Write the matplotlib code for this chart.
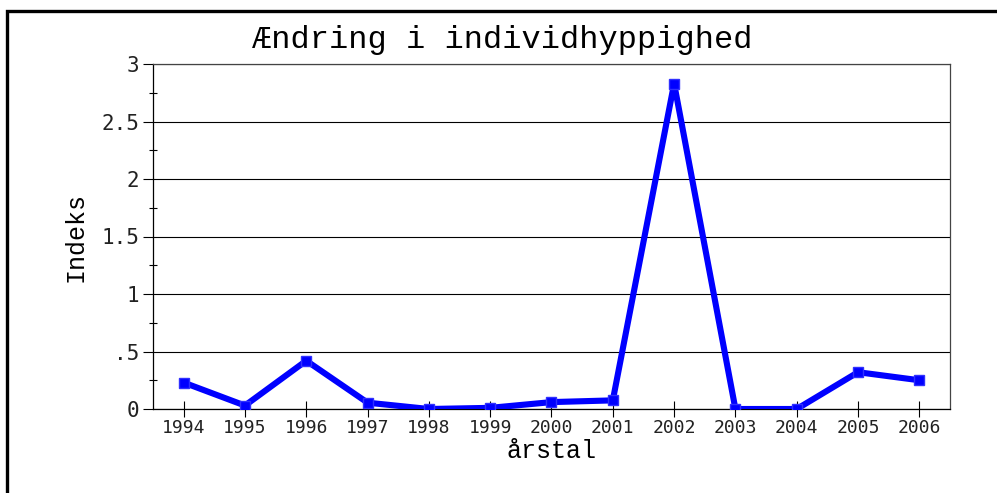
import matplotlib.pyplot as plt
from matplotlib.patches import Rectangle
from matplotlib.ticker import FixedLocator

# data
years = [1994, 1995, 1996, 1997, 1998, 1999, 2000, 2001, 2002, 2003, 2004, 2005, 2006]
indeks = [0.23, 0.03, 0.42, 0.055, 0.0, 0.01, 0.06, 0.075, 2.83, 0.0, 0.0, 0.32, 0.25]
y_ticks = [0, 0.5, 1, 1.5, 2, 2.5, 3]
y_tick_labels = ['0', '.5', '1', '1.5', '2', '2.5', '3']
y_minor = [0.25, 0.75, 1.25, 1.75, 2.25, 2.75]

W, H = 997, 493
fig = plt.figure(figsize=(W / 100, H / 100), dpi=100)
ax = fig.add_axes([153 / W, 1 - 409 / H, (950 - 153) / W, (409 - 64) / H])

# frame round the whole figure (cut off right and bottom in the reference)
fig.patches.append(Rectangle((7 / W, -1.0), 3.0, 2.0 - 11 / H,
                             transform=fig.transFigure, fill=False,
                             edgecolor='black', linewidth=2.4, clip_on=False))

ax.plot(years, indeks, color='#0000ff', linewidth=4.4, marker='s',
        markersize=7, markerfacecolor='#0000ff', markeredgecolor='#3030ff',
        solid_joinstyle='bevel', zorder=3)

ax.set_xlim(1993.5, 2006.5)
ax.set_ylim(0, 3)
ax.set_xticks(years)
ax.set_xticklabels([str(y) for y in years], family='DejaVu Sans Mono',
                   fontsize=13, color='#222222')
ax.set_yticks(y_ticks)
ax.set_yticklabels(y_tick_labels, family='DejaVu Sans Mono', fontsize=15,
                   color='#222222')
ax.yaxis.set_minor_locator(FixedLocator(y_minor))

ax.tick_params(axis='x', direction='inout', length=12, width=0.8, pad=1)
ax.tick_params(axis='y', which='major', direction='out', length=7, width=0.8, pad=3)
ax.tick_params(axis='y', which='minor', direction='inout', length=6, width=0.8)

ax.grid(axis='y', which='major', color='black', linewidth=0.8)
for side in ['top', 'right']:
    ax.spines[side].set_color('#444444')
    ax.spines[side].set_linewidth(0.9)
for side in ['left', 'bottom']:
    ax.spines[side].set_linewidth(0.9)

ax.set_xlabel('årstal', family='Liberation Mono', fontsize=18, labelpad=2)
ax.set_ylabel('Indeks', family='Liberation Mono', fontsize=18, labelpad=10)
fig.text(502 / W, 1 - 40 / H, 'Ændring i individhyppighed', family='Liberation Mono',
         fontsize=23, ha='center', va='center')

fig.savefig('out.png', dpi=100)
